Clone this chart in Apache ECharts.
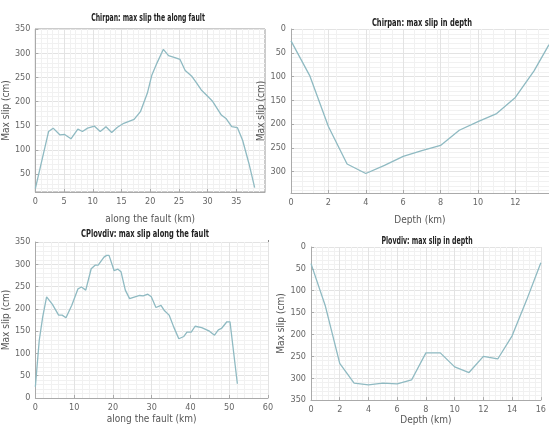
<!DOCTYPE html>
<html>
<head>
<meta charset="utf-8">
<script src="https://cdn.jsdelivr.net/npm/echarts@6/dist/echarts.min.js"></script>
<style>
  html, body { margin: 0; padding: 0; background: #fff; }
  #main { width: 549px; height: 426px; }
</style>
</head>
<body>
<div id="main"></div>
<script>
// Chirpan, max slip along the fault
var chirpanAlongKm = [0, 2.3, 3.1, 4.3, 5.1, 6.2, 7.4, 8.2, 9.1, 10.3, 11.3, 12.3, 13.3, 14.3, 15.4, 17.2, 18.3, 19.5, 20.3, 21.2, 22.3, 23.2, 24.3, 25.2, 26.1, 27.2, 28.1, 28.9, 30.1, 30.9, 32.4, 33.2, 34.2, 35.2, 36.1, 37.2, 38.2];
var chirpanAlongSlip = [20, 138, 145, 131, 132, 123, 143, 138, 145, 149, 138, 148, 136, 147, 155, 163, 179, 217, 255, 280, 308, 295, 291, 287, 264, 253, 238, 224, 210, 200, 172, 165, 148, 146, 120, 72, 22];
// Chirpan, max slip in depth
var chirpanDepthKm = [0, 1, 2, 3, 4, 5, 6, 7, 8, 9, 10, 11, 12, 13, 13.8];
var chirpanDepthSlip = [25, 98, 205, 284, 304, 287, 268, 256, 245, 213, 195, 178, 144, 88, 33];
// Plovdiv, max slip along the fault
var plovdivAlongKm = [0, 1, 1.9, 2.9, 4.4, 6, 6.9, 7.9, 9.4, 11, 11.9, 13, 14.4, 15.4, 16.2, 17.7, 18.4, 19, 20.3, 21.3, 22.1, 23.2, 24.3, 25.7, 26.9, 27.8, 29, 29.9, 31.1, 32.4, 33.2, 34.5, 35.7, 37, 38.3, 39.1, 40.2, 41.2, 42.9, 44.9, 46.2, 47.2, 48, 49.4, 50.2, 52.1];
var plovdivAlongSlip = [25, 129, 182, 227, 210, 186, 186, 180, 208, 245, 249, 242, 290, 298, 298, 316, 320, 320, 286, 289, 283, 242, 223, 227, 230, 229, 233, 227, 203, 208, 197, 186, 159, 133, 138, 148, 148, 161, 158, 150, 141, 153, 156, 171, 171, 32];
// Plovdiv, max slip in depth
var plovdivDepthKm = [0, 1, 2, 3, 4, 5, 6, 7, 8, 9, 10, 11, 12, 13, 14, 15, 16];
var plovdivDepthSlip = [38, 135, 266, 311, 315, 311, 313, 304, 242, 242, 274, 287, 250, 256, 203, 122, 36];

// tick labels
var ticksAlong1 = [0, 5, 10, 15, 20, 25, 30, 35];
var ticksSlip1 = [50, 100, 150, 200, 250, 300, 350];
var ticksDepth1 = [0, 2, 4, 6, 8, 10, 12];
var ticksSlip2 = [0, 50, 100, 150, 200, 250, 300];

var titles = ['Chirpan: max slip the along fault', 'Chirpan: max slip in depth',
              'CPlovdiv: max slip along the fault', 'Plovdiv: max slip in depth'];

var FONT = "'Liberation Sans Narrow', 'Arial Narrow', 'DejaVu Sans Condensed', sans-serif";
var LINE_COLOR = '#8fbac2';
var LABEL_COLOR = '#666';

function pairs(xs, ys) {
    var out = [];
    for (var i = 0; i < xs.length; i++) {
        out.push([xs[i], ys[i]]);
    }
    return out;
}

// one x / y axis setting, MATLAB-like grid
function makeAxis(gridIndex, opt) {
    var a = {
        type: 'value',
        gridIndex: gridIndex,
        min: opt.min,
        max: opt.max,
        interval: opt.interval,
        inverse: !!opt.inverse,
        position: opt.position,
        name: opt.name || '',
        nameLocation: 'middle',
        nameGap: opt.nameGap || 20,
        nameTextStyle: { color: '#555', fontSize: 10, fontFamily: FONT },
        axisLine: { show: true, onZero: false, lineStyle: { color: '#aaa', width: 1 } },
        axisTick: { show: true, inside: true, length: 3, lineStyle: { color: '#aaa' } },
        axisLabel: {
            color: LABEL_COLOR, fontSize: 9, fontFamily: FONT, margin: 5,
            showMinLabel: true, showMaxLabel: true
        },
        splitLine: { show: true, lineStyle: { color: '#e3e3e3', width: 1 } },
        minorTick: { show: false, splitNumber: 5 },
        minorSplitLine: { show: true, lineStyle: { color: '#f1f1f1', width: 1 } }
    };
    if (opt.labels) {
        a.axisLabel.customValues = opt.labels;
        a.axisTick.customValues = opt.labels;
    }
    return a;
}

var chart = echarts.init(document.getElementById('main'), null, { renderer: 'canvas' });

var option = {
    animation: false,
    backgroundColor: '#fff',
    grid: [
        { left: 32, top: 29, width: 233, height: 163, show: true, borderColor: '#999', borderWidth: 1 },
        { left: 291, top: 29, width: 258, height: 164 },
        { left: 29, top: 242, width: 239, height: 156 },
        { left: 311, top: 247, width: 232, height: 157 }
    ],
    xAxis: [
        makeAxis(0, { min: 0, max: 40, interval: 5, labels: ticksAlong1, position: 'bottom', name: 'along the fault (km)', nameGap: 22 }),
        makeAxis(1, { min: 0, max: 13.8, labels: ticksDepth1, position: 'bottom', name: 'Depth (km)', nameGap: 22 }),
        makeAxis(2, { min: 0, max: 60, interval: 10, position: 'bottom', name: 'along the fault (km)', nameGap: 16 }),
        makeAxis(3, { min: 0, max: 16, interval: 2, position: 'bottom', name: 'Depth (km)', nameGap: 13 })
    ],
    yAxis: [
        makeAxis(0, { min: 13, max: 350, labels: ticksSlip1, position: 'left', name: 'Max slip (cm)', nameGap: 20 }),
        makeAxis(1, { min: 0, max: 345, labels: ticksSlip2, inverse: true, position: 'left', name: 'Max slip (cm)', nameGap: 22 }),
        makeAxis(2, { min: 0, max: 350, interval: 50, position: 'left', name: 'Max slip (cm)', nameGap: 17 }),
        makeAxis(3, { min: 0, max: 350, interval: 50, inverse: true, position: 'left', name: 'Max slip (cm)', nameGap: 19 })
    ],
    series: [
        { type: 'line', xAxisIndex: 0, yAxisIndex: 0, data: pairs(chirpanAlongKm, chirpanAlongSlip) },
        { type: 'line', xAxisIndex: 1, yAxisIndex: 1, data: pairs(chirpanDepthKm, chirpanDepthSlip) },
        { type: 'line', xAxisIndex: 2, yAxisIndex: 2, data: pairs(plovdivAlongKm, plovdivAlongSlip) },
        { type: 'line', xAxisIndex: 3, yAxisIndex: 3, data: pairs(plovdivDepthKm, plovdivDepthSlip) }
    ].map(function (s) {
        s.showSymbol = false;
        s.symbol = 'none';
        s.lineStyle = { color: LINE_COLOR, width: 1.3 };
        s.itemStyle = { color: LINE_COLOR };
        return s;
    }),
    graphic: [
        // titles, squeezed like the narrow source lettering
        { x: 148, y: 18, sx: 0.62 }, { x: 422, y: 23, sx: 0.68 },
        { x: 145, y: 234, sx: 0.68 }, { x: 427, y: 241, sx: 0.63 }
    ].map(function (p, i) {
        return {
            type: 'text', x: p.x, y: p.y, scaleX: p.sx,
            style: {
                text: titles[i], fill: '#222',
                font: 'bold 11px ' + FONT,
                align: 'center', verticalAlign: 'middle'
            }
        };
    }).concat([
        // right border of the third panel
        { type: 'line', shape: { x1: 268.5, y1: 240, x2: 268.5, y2: 398 }, style: { stroke: '#888', lineWidth: 1 } }
    ])
};

chart.setOption(option);
</script>
</body>
</html>
